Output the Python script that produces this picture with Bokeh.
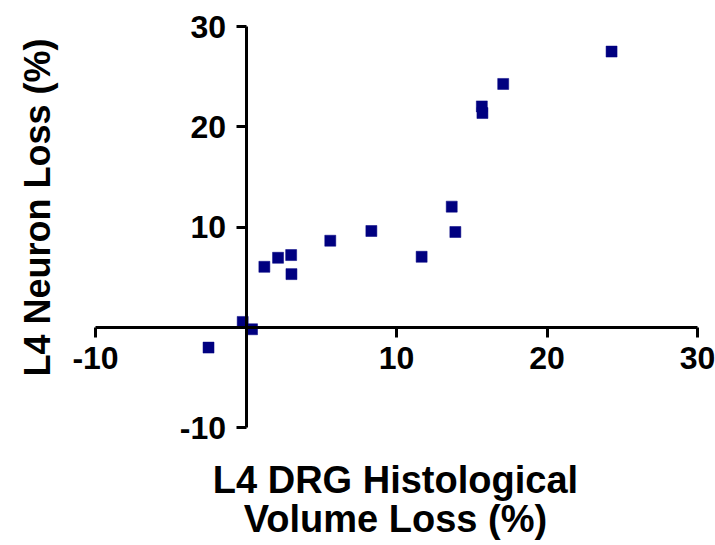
import math
from bokeh.plotting import figure
from bokeh.models import LinearAxis, FixedTicker, Label, ColumnDataSource, Range1d
from bokeh.embed import file_html
from bokeh.resources import INLINE

# Data
drg_volume_loss = [-2.49, -0.22, 0.40, 1.22, 2.13, 3.00, 3.02, 5.60, 8.33,
                   11.67, 13.67, 13.91, 15.67, 15.71, 17.09, 24.29]
neuron_loss = [-2.03, 0.53, -0.20, 6.03, 6.93, 7.20, 5.30, 8.63, 9.60,
               7.03, 12.03, 9.50, 22.03, 21.37, 24.27, 27.50]
x_ticks = [-10, 10, 20, 30]
y_ticks = [-10, 10, 20, 30]
x_title_lines = ["L4 DRG Histological", "Volume Loss (%)"]
y_title = "L4 Neuron Loss (%)"

FONT = "Liberation Sans"

# axis extent -10..30 mapped to pixels 95..697 (x) and 427..26 (y)
XPX = 602 / 40.0
YPX = 401 / 40.0
x_start, x_end = -10 - 95 / XPX, 30 + 18 / XPX
y_start, y_end = -10 - 118 / YPX, 30 + 26 / YPX

p = figure(frame_width=715, frame_height=545,
           min_border_left=0, min_border_right=0,
           min_border_top=0, min_border_bottom=0,
           x_range=Range1d(x_start, x_end), y_range=Range1d(y_start, y_end),
           x_axis_location=None, y_axis_location=None,
           toolbar_location=None, output_backend="svg")
p.grid.visible = False
p.outline_line_color = None
p.background_fill_color = "white"
p.border_fill_color = "white"

src = ColumnDataSource(dict(x=drg_volume_loss, y=neuron_loss))
p.scatter("x", "y", source=src, marker="square", size=11,
          fill_color="#000080", line_color="#000080", line_width=0.5)

def style_axis(ax):
    ax.axis_line_width = 3
    ax.axis_line_color = "black"
    ax.major_tick_line_width = 3
    ax.major_tick_line_color = "black"
    ax.major_tick_out = 10
    ax.major_tick_in = 0
    ax.minor_tick_line_color = None
    ax.major_label_text_font = FONT
    ax.major_label_text_font_style = "bold"
    ax.major_label_text_font_size = "32px"
    ax.major_label_text_color = "black"
    ax.major_label_standoff = 10
    ax.major_label_overrides = {-10: "-10"}

xaxis = LinearAxis(fixed_location=0, bounds=(-10, 30), ticker=FixedTicker(ticks=x_ticks))
yaxis = LinearAxis(fixed_location=0, bounds=(-10, 30), ticker=FixedTicker(ticks=y_ticks))
style_axis(xaxis)
style_axis(yaxis)
p.add_layout(xaxis, "below")
p.add_layout(yaxis, "left")

p.add_layout(Label(x=-13.85, y=11.94, text=y_title, angle=math.pi / 2,
                   text_align="center", text_baseline="middle",
                   text_font=FONT, text_font_style="bold",
                   text_font_size="36px", text_color="black"))
for line, yy in zip(x_title_lines, [-15.2, -19.1]):
    p.add_layout(Label(x=9.93, y=yy, text=line,
                       text_align="center", text_baseline="middle",
                       text_font=FONT, text_font_style="bold",
                       text_font_size="38px", text_color="black"))

open("out.html", "w").write(file_html(p, INLINE))
